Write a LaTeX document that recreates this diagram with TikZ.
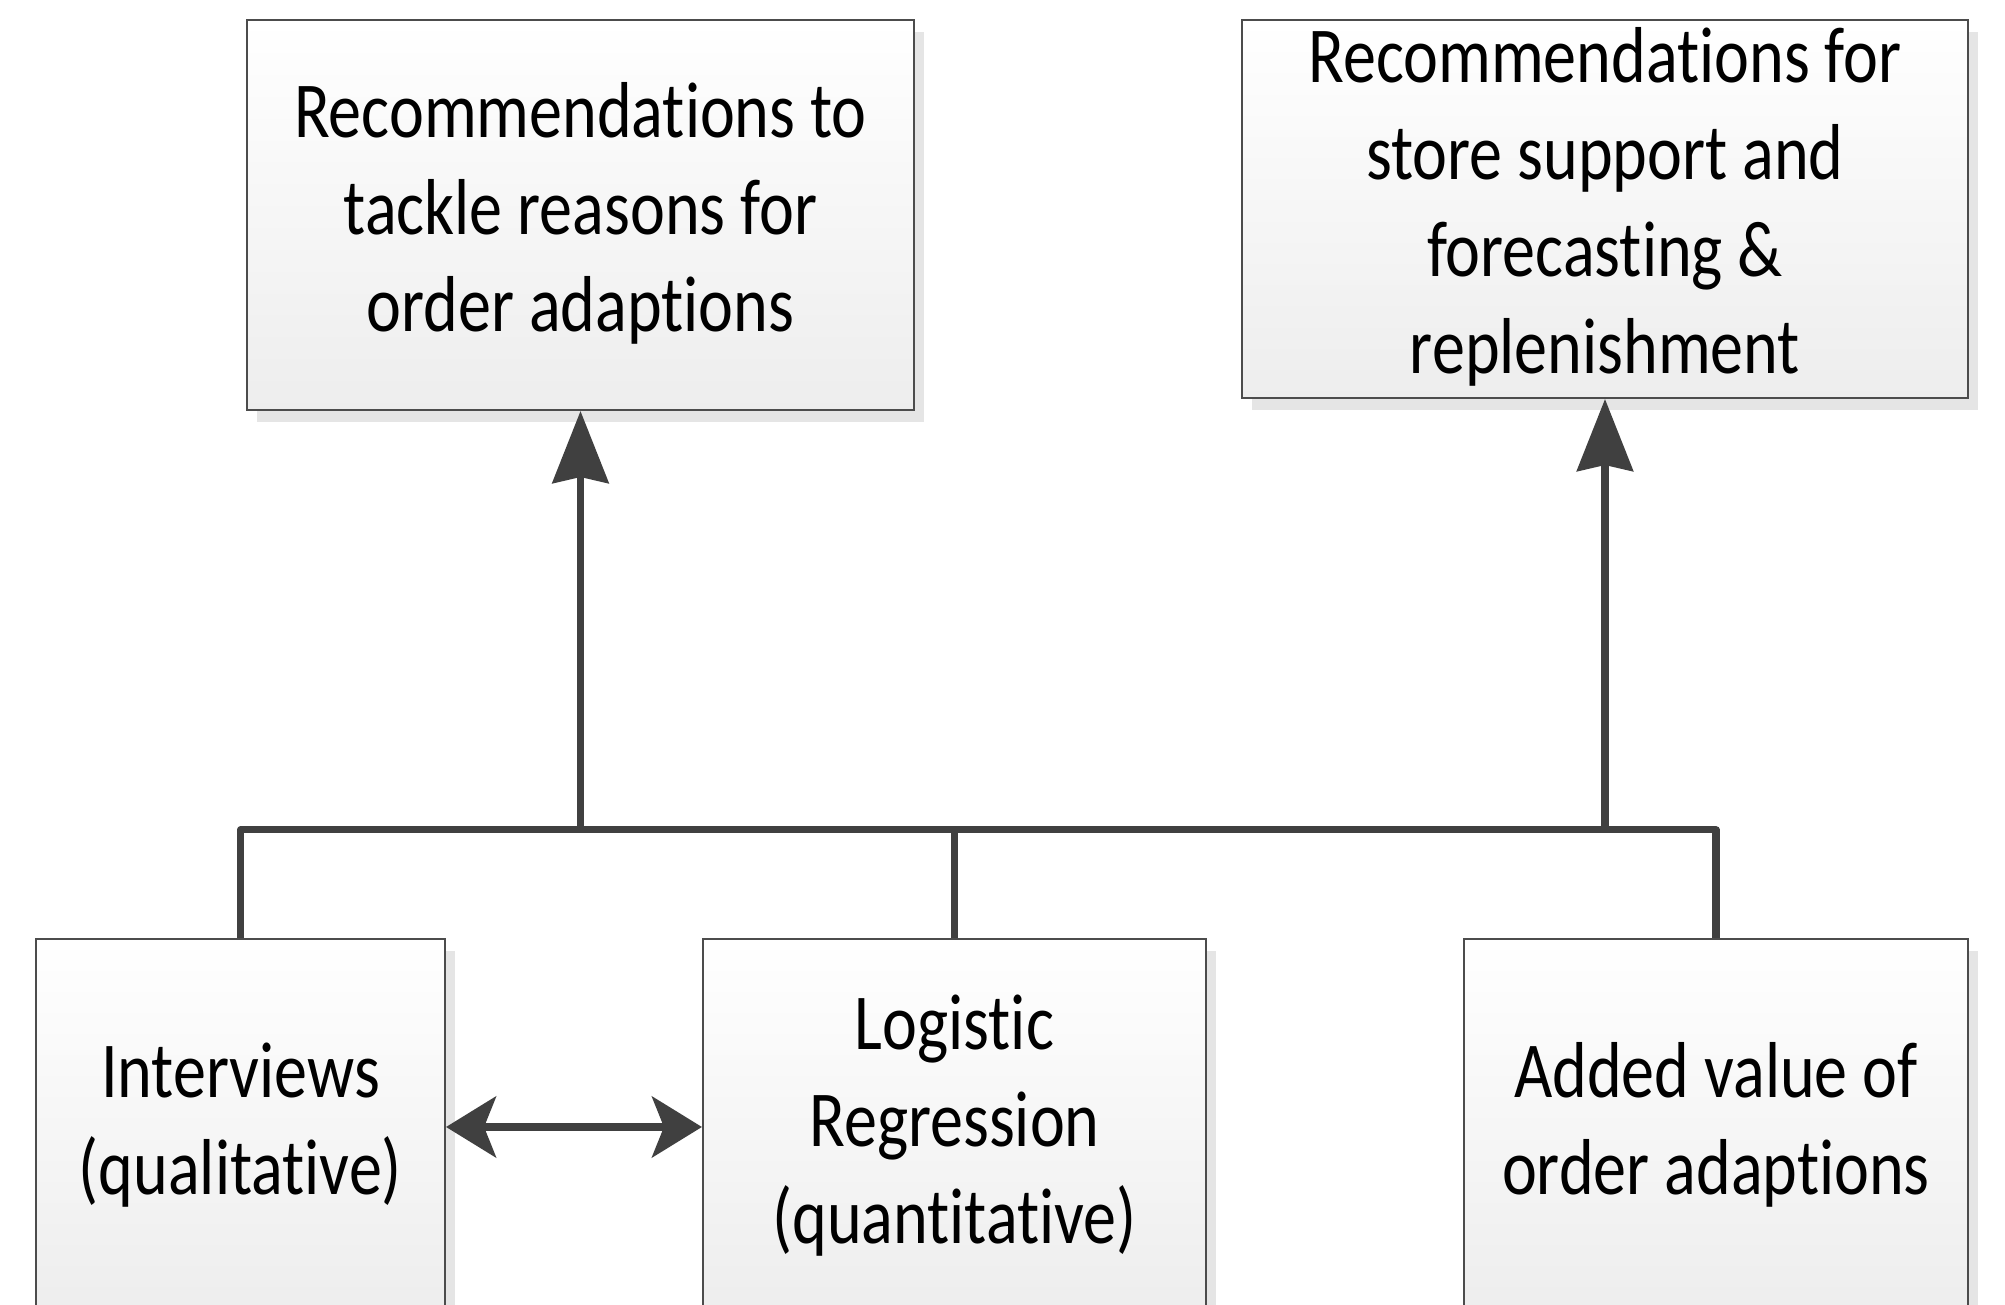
\documentclass[tikz,border=0pt]{standalone}
\usepackage{fontspec}
\usepackage{graphicx}
\setmainfont{Carlito}[Ligatures={NoCommon}]
\usetikzlibrary{arrows.meta,positioning,shadows}
\newcommand{\tallrows}[1]{\scalebox{1}[1.2]{\begin{tabular}{@{}c@{}}#1\end{tabular}}}

\begin{document}
\begin{tikzpicture}[
  box/.style={draw=black!70, line width=0.6pt, top color=white, bottom color=black!7, align=center, inner sep=0pt, font=\fontsize{18.8}{23}\selectfont, drop shadow={shadow xshift=0.1cm, shadow yshift=-0.12cm, fill=black!10, opacity=1}},
  conn/.style={draw=black!75, line width=2pt, line join=round},
  arr/.style={conn, -{Stealth[length=7.2mm, width=5.6mm, inset=0.6mm]}},
  darr/.style={conn, {Stealth[length=5mm, width=6.1mm, inset=1.2mm]}-{Stealth[length=5mm, width=6.1mm, inset=1.2mm]}}
]
\useasboundingbox (0,0) rectangle (20.05,13.05);
\clip (0,0) rectangle (20.05,13.05);
% ---- recommendations (top)
\node[box, minimum width=6.67cm, minimum height=3.90cm] (rec1) at (5.805,10.90) {\tallrows{Recommendations to\\tackle reasons for\\order adaptions}};
\node[box, minimum width=7.26cm, minimum height=3.78cm, inner ysep=-0.08cm] (rec2) at (16.05,10.96) {\tallrows{Recommendations for\\store support and\\forecasting \&\\replenishment}};
% ---- analyses (bottom)
\node[box, minimum width=4.09cm, minimum height=3.76cm] (intv) at (2.405,1.78) {\tallrows{Interviews\\(qualitative)}};
\node[box, minimum width=5.03cm, minimum height=3.76cm] (logreg) at (9.545,1.78) {\tallrows{Logistic\\Regression\\(quantitative)}};
\node[box, minimum width=5.04cm, minimum height=3.76cm] (addval) at (17.16,1.78) {\tallrows{Added value of\\order adaptions}};
% ---- connectors
\coordinate (bus) at (0,4.75);
\draw[conn] (intv.north) |- (bus -| addval.north) -- (addval.north);
\draw[conn] (logreg.north) -- (logreg.north |- bus);
\draw[arr] (bus -| rec1.south) -- (rec1.south);
\draw[arr] (bus -| rec2.south) -- (rec2.south);
\draw[darr] (intv.east) -- (logreg.west);
\end{tikzpicture}
\end{document}
